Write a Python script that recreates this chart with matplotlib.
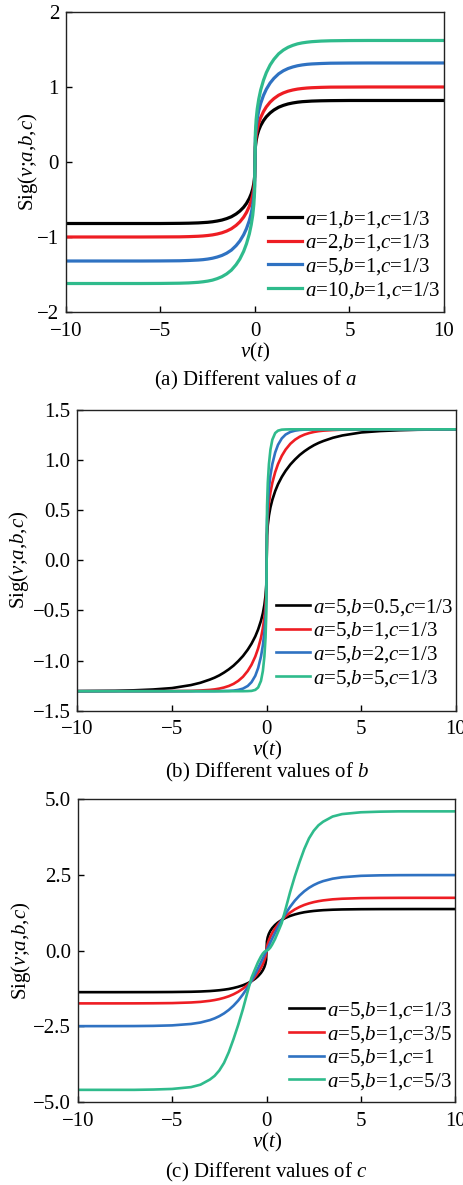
import numpy as np
import matplotlib
matplotlib.use("Agg")
import matplotlib.pyplot as plt

plt.rcParams["font.family"] = ["Liberation Serif", "DejaVu Serif"]
plt.rcParams["mathtext.fontset"] = "custom"
plt.rcParams["mathtext.rm"] = "Liberation Serif"
plt.rcParams["mathtext.it"] = "Liberation Serif:italic"

# --- values (positive half; curves are odd-symmetric) ---
v_half = [0, 0.02, 0.06, 0.12, 0.2, 0.3, 0.45, 0.6, 0.8, 1.0, 1.25, 1.5, 1.75,
          2.0, 2.25, 2.5, 2.75, 3.0, 3.5, 4.0, 5.0, 6.0, 7.0, 8.0, 10.0]

# (a) different a  (b=1, c=1/3)
labels_a = [r"$a$=1,$b$=1,$c$=1/3", r"$a$=2,$b$=1,$c$=1/3",
            r"$a$=5,$b$=1,$c$=1/3", r"$a$=10,$b$=1,$c$=1/3"]
sig_a1 = [0, .198, .285, .359, .425, .485, .552, .603, .654, .693, .730, .755, .774,
          .787, .797, .804, .808, .812, .816, .818, .820, .82, .82, .82, .82]
sig_a2 = [0, .241, .348, .438, .518, .592, .673, .735, .798, .845, .890, .921, .944,
          .960, .972, .980, .986, .990, .995, .998, .999, 1.0, 1.0, 1.0, 1.0]
sig_a5 = [0, .318, .459, .578, .684, .781, .888, .970, 1.053, 1.115, 1.175, 1.216, 1.246,
          1.267, 1.283, 1.294, 1.302, 1.307, 1.313, 1.317, 1.319, 1.32, 1.32, 1.32, 1.32]
sig_a10 = [0, .390, .564, .710, .839, .959, 1.090, 1.191, 1.293, 1.369, 1.442, 1.492, 1.529,
           1.555, 1.575, 1.588, 1.597, 1.604, 1.612, 1.616, 1.619, 1.62, 1.62, 1.62, 1.62]

# (b) different b  (a=5, c=1/3)
labels_b = [r"$a$=5,$b$=0.5,$c$=1/3", r"$a$=5,$b$=1,$c$=1/3",
            r"$a$=5,$b$=2,$c$=1/3", r"$a$=5,$b$=5,$c$=1/3"]
sig_b05 = [0, .246, .353, .445, .528, .603, .690, .759, .832, .892, .955, 1.006, 1.051,
           1.088, 1.120, 1.148, 1.171, 1.190, 1.222, 1.245, 1.275, 1.289, 1.297, 1.302, 1.305]
sig_b1 = [0, .315, .454, .572, .677, .773, .879, .960, 1.042, 1.104, 1.162, 1.203, 1.233,
          1.254, 1.269, 1.280, 1.288, 1.293, 1.299, 1.303, 1.305, 1.306, 1.306, 1.306, 1.306]
sig_b2 = [0, .397, .571, .718, .848, .960, 1.075, 1.152, 1.216, 1.254, 1.280, 1.293, 1.300,
          1.303, 1.304, 1.305, 1.306, 1.306, 1.306, 1.306, 1.306, 1.306, 1.306, 1.306, 1.306]
sig_b5 = [0, .538, .773, .960, 1.104, 1.203, 1.269, 1.293, 1.303, 1.305, 1.306, 1.306, 1.306,
          1.306, 1.306, 1.306, 1.306, 1.306, 1.306, 1.306, 1.306, 1.306, 1.306, 1.306, 1.306]

# (c) different c  (a=5, b=1)
labels_c = [r"$a$=5,$b$=1,$c$=1/3", r"$a$=5,$b$=1,$c$=3/5",
            r"$a$=5,$b$=1,$c$=1", r"$a$=5,$b$=1,$c$=5/3"]
sig_c13 = [0, .301, .434, .547, .648, .740, .844, .925, 1.010, 1.077, 1.143, 1.193, 1.233,
           1.265, 1.288, 1.307, 1.321, 1.333, 1.348, 1.357, 1.365, 1.368, 1.369, 1.37, 1.37]
sig_c35 = [0, .114, .220, .333, .452, .574, .728, .858, 1.005, 1.128, 1.255, 1.358, 1.440,
           1.506, 1.557, 1.598, 1.630, 1.655, 1.690, 1.710, 1.730, 1.736, 1.739, 1.74, 1.74]
sig_c1 = [0, .026, .079, .158, .263, .393, .583, .766, .997, 1.209, 1.444, 1.647, 1.816,
          1.956, 2.070, 2.161, 2.234, 2.291, 2.371, 2.418, 2.465, 2.481, 2.487, 2.489, 2.49]
sig_c53 = [0, .002, .015, .045, .10, .20, .38, .60, .90, 1.35, 1.93, 2.45, 2.92,
           3.35, 3.70, 3.95, 4.13, 4.25, 4.42, 4.50, 4.56, 4.58, 4.59, 4.59, 4.59]

colors = ["#000000", "#ee1d23", "#2f72c2", "#2fbb8c"]
FS = 15


def full(v, y):
    v = np.asarray(v, float)
    y = np.asarray(y, float)
    return np.concatenate([-v[::-1], v[1:]]), np.concatenate([-y[::-1], y[1:]])


def panel(ax, curves, labels, ylim, yticks, yticklabels, caption, cap_y, lw,
          leg_anchor, ypad):
    for y, lab, col in zip(curves, labels, colors):
        xv, yv = full(v_half, y)
        ax.plot(xv, yv, color=col, lw=lw, label=lab)
    ax.set_xlim(-10, 10)
    ax.set_ylim(*ylim)
    ax.set_xticks([-10, -5, 0, 5, 10])
    ax.set_yticks(yticks)
    ax.set_yticklabels(yticklabels)
    ax.tick_params(axis="x", direction="in", length=4, width=1, labelsize=FS, pad=7)
    ax.tick_params(axis="y", direction="in", length=4, width=1, labelsize=FS, pad=5)
    for s in ax.spines.values():
        s.set_linewidth(1.0)
        s.set_color("#222222")
    ax.set_ylabel(r"Sig($v$;$a$,$b$,$c$)", fontsize=FS, labelpad=ypad)
    ax.set_xlabel(r"$v$($t$)", fontsize=FS, labelpad=0)
    ax.text(0.5, cap_y, caption, transform=ax.transAxes, ha="center", va="center",
            fontsize=FS)
    ax.legend(loc="lower right", bbox_to_anchor=leg_anchor, frameon=False,
              fontsize=FS, handlelength=1.65, handletextpad=0.15, labelspacing=0.13,
              borderpad=0.0, borderaxespad=0.0)


fig = plt.figure(figsize=(4.64, 11.85), dpi=100)
ax1 = fig.add_axes([0.1422, 0.7367, 0.8147, 0.2532])
ax2 = fig.add_axes([0.1666, 0.4003, 0.8162, 0.2538])
ax3 = fig.add_axes([0.1675, 0.0698, 0.8138, 0.2560])

panel(ax1, [sig_a1, sig_a2, sig_a5, sig_a10], labels_a, (-2, 2), [-2, -1, 0, 1, 2],
      ["\u22122", "\u22121", "0", "1", "2"], r"(a) Different values of $a$", -0.227, 2.3,
      (0.99, 0.038), -2)
panel(ax2, [sig_b05, sig_b1, sig_b2, sig_b5], labels_b, (-1.5, 1.5),
      [-1.5, -1.0, -0.5, 0.0, 0.5, 1.0, 1.5],
      ["\u22121.5", "\u22121.0", "\u22120.5", "0.0", "0.5", "1.0", "1.5"],
      r"(b) Different values of $b$", -0.207, 1.9, (0.993, 0.073), 1)
panel(ax3, [sig_c13, sig_c35, sig_c1, sig_c53], labels_c, (-5, 5),
      [-5, -2.5, 0, 2.5, 5], ["\u22125.0", "\u22122.5", "0.0", "2.5", "5.0"],
      r"(c) Different values of $c$", -0.231, 1.9, (0.99, 0.034), 0)

fig.savefig("out.png", dpi=100)
